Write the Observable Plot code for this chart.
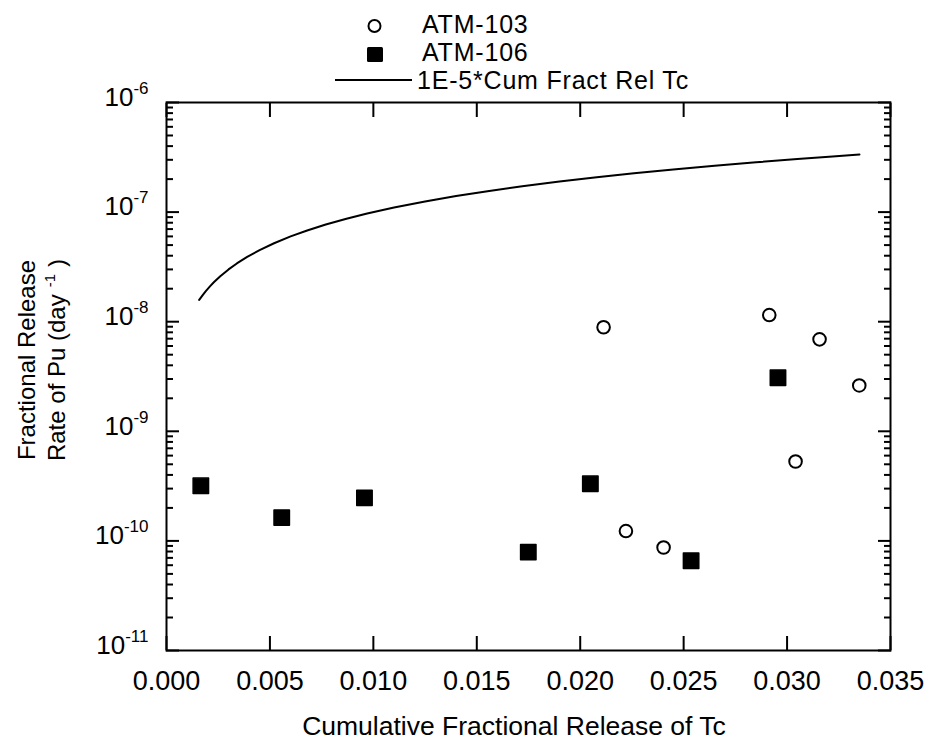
<!DOCTYPE html>
<html><head><meta charset="utf-8">
<script src="https://cdn.jsdelivr.net/npm/d3@7"></script>
<script src="https://cdn.jsdelivr.net/npm/@observablehq/plot@0.6"></script>
<style>
body{margin:0;background:#fff;font-family:"Liberation Sans",Arial,sans-serif;color:#000;}
#wrap{position:relative;width:930px;height:740px;overflow:hidden;}
#wrap svg{position:absolute;left:0;top:0;}
.abs{position:absolute;white-space:nowrap;}
.leg{font-size:25px;line-height:26px;letter-spacing:0.8px;}
.ytitle{position:absolute;left:43px;top:360px;transform:translate(-50%,-50%) rotate(-90deg);font-size:24px;line-height:30px;text-align:center;white-space:nowrap;}
.ytitle sup{font-size:15px;vertical-align:0;position:relative;top:-10px;margin-left:7px;margin-right:7px;}
.xtitle{position:absolute;left:514px;top:739px;transform:translate(-50%,-100%);font-size:26.5px;white-space:nowrap;line-height:26.5px;}
</style></head><body>
<div id="wrap"></div>
<script>
// ---- data ----
const atm103X = [0.02113, 0.02221, 0.02403, 0.02914, 0.03041, 0.03157, 0.03349];
const atm103Y = [8.9e-9, 1.23e-10, 8.7e-11, 1.15e-8, 5.3e-10, 6.9e-9, 2.62e-9];
const atm106X = [0.00166, 0.00557, 0.00957, 0.01749, 0.02049, 0.02536, 0.02956];
const atm106Y = [3.18e-10, 1.63e-10, 2.47e-10, 7.9e-11, 3.32e-10, 6.6e-11, 3.08e-9];
const tcX = [0.00158, 0.00175, 0.0019, 0.0021, 0.0023, 0.0026, 0.0030, 0.0034, 0.0039, 0.0045,
             0.0052, 0.0060, 0.0068, 0.0077, 0.0087, 0.0097, 0.0110, 0.0125, 0.0140, 0.0156,
             0.0172, 0.0190, 0.0208, 0.0226, 0.0245, 0.0265, 0.0285, 0.0305, 0.0322, 0.0335];
const tcY = [1.58e-8, 1.75e-8, 1.9e-8, 2.1e-8, 2.3e-8, 2.6e-8, 3.0e-8, 3.4e-8, 3.9e-8, 4.5e-8,
             5.2e-8, 6.0e-8, 6.8e-8, 7.7e-8, 8.7e-8, 9.7e-8, 1.10e-7, 1.25e-7, 1.40e-7, 1.56e-7,
             1.72e-7, 1.90e-7, 2.08e-7, 2.26e-7, 2.45e-7, 2.65e-7, 2.85e-7, 3.05e-7, 3.22e-7, 3.35e-7];
const xTicks = [0, 0.005, 0.010, 0.015, 0.020, 0.025, 0.030, 0.035];
const xTickLabels = ["0.000", "0.005", "0.010", "0.015", "0.020", "0.025", "0.030", "0.035"];
const yDecades = [1e-11, 1e-10, 1e-9, 1e-8, 1e-7, 1e-6];
const yDecadeLabels = ["10^-11", "10^-10", "10^-9", "10^-8", "10^-7", "10^-6"];
const seriesNames = ["ATM-103", "ATM-106", "1E-5*Cum Fract Rel Tc"];
const xTitle = "Cumulative Fractional Release of Tc";
const yTitle1 = "Fractional Release";
const yTitle2 = "Rate of Pu (day";

// ---- build tables ----
const pts103 = atm103X.map((x, i) => ({x, y: atm103Y[i]}));
const pts106 = atm106X.map((x, i) => ({x, y: atm106Y[i]}));
const tcLine = tcX.map((x, i) => ({x, y: tcY[i]}));
const xLab = new Map(xTicks.map((d, i) => [d, xTickLabels[i]]));
const yLab = new Map(yDecades.map((d, i) => [d, yDecadeLabels[i]]));
const yMinor = [];
for (const d of yDecades.slice(0, -1)) for (let k = 2; k <= 9; k++) yMinor.push(d * k);

const blank = () => "";
const plot = Plot.plot({
  width: 930, height: 740,
  marginTop: 102, marginBottom: 90, marginLeft: 166, marginRight: 40,
  style: {fontFamily: "'Liberation Sans', Arial, sans-serif", fontSize: "26px", color: "#000", background: "transparent"},
  x: {domain: [0, 0.035]},
  y: {type: "log", domain: [1e-11, 1e-6]},
  marks: [
    // inward ticks
    Plot.axisX(xTicks, {anchor: "bottom", tickSize: -14, strokeWidth: 2, tickFormat: blank, label: null}),
    Plot.axisX(xTicks, {anchor: "top", tickSize: -14, strokeWidth: 2, tickFormat: blank, label: null}),
    Plot.axisY(yDecades, {anchor: "left", tickSize: -13, strokeWidth: 2, tickFormat: blank, label: null}),
    Plot.axisY(yDecades, {anchor: "right", tickSize: -13, strokeWidth: 2, tickFormat: blank, label: null}),
    Plot.axisY(yMinor, {anchor: "left", tickSize: -7, strokeWidth: 2, tickFormat: blank, label: null}),
    Plot.axisY(yMinor, {anchor: "right", tickSize: -7, strokeWidth: 2, tickFormat: blank, label: null}),
    // labels
    Plot.axisX(xTicks, {anchor: "bottom", tickSize: 0, tickPadding: 20, tickFormat: d => xLab.get(d), fontSize: 27, label: null}),
    Plot.axisY(yDecades, {anchor: "left", tickSize: 0, tickPadding: 18, tickFormat: d => yLab.get(d), fontSize: 26, dy: -5, label: null}),
    Plot.frame({stroke: "#000", strokeWidth: 2}),
    Plot.line(tcLine, {x: "x", y: "y", stroke: "#000", strokeWidth: 2}),
    Plot.dot(pts103, {x: "x", y: "y", r: 6.3, stroke: "#000", strokeWidth: 2, fill: "#fff"}),
    Plot.dot(pts106, {x: "x", y: "y", symbol: "square", r: 8.7, fill: "#000", stroke: "#000", strokeWidth: 1.5, strokeLinejoin: "round"})
  ]
});

// tick label fonts + superscripts for the log tick labels
const xLabelSet = new Set(xTickLabels);
d3.select(plot).selectAll("text").each(function () {
  const s = this.textContent;
  if (xLabelSet.has(s)) { this.style.fontSize = "27px"; return; }
  const m = /^10\^(-?\d+)$/.exec(s);
  if (!m) return;
  const t = d3.select(this);
  this.style.fontSize = "26px";
  t.text(null);
  t.append("tspan").text("10");
  t.append("tspan").attr("dy", -12).style("font-size", "17px").text(m[1]);
});

const wrap = document.getElementById("wrap");
wrap.appendChild(plot);

// legend (HTML overlay)
const leg = document.createElement("div");
leg.innerHTML = `
<svg class="abs" style="left:0;top:0" width="930" height="100">
  <circle cx="374.5" cy="26" r="6" fill="#fff" stroke="#000" stroke-width="2"/>
  <rect x="367" y="47" width="16" height="15" rx="1.5" fill="#000"/>
  <line x1="335" y1="80" x2="412" y2="80" stroke="#000" stroke-width="2"/>
</svg>
<div class="abs leg" style="left:422px;top:11px">${seriesNames[0]}</div>
<div class="abs leg" style="left:422px;top:39px">${seriesNames[1]}</div>
<div class="abs leg" style="left:417px;top:67px">${seriesNames[2]}</div>
<div class="ytitle">${yTitle1}<br>${yTitle2}<sup>-1</sup>)</div>
<div class="xtitle">${xTitle}</div>`;
wrap.appendChild(leg);
</script>
</body></html>
